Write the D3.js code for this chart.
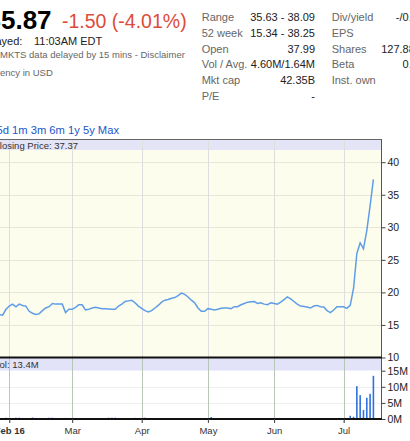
<!DOCTYPE html>
<html>
<head>
<meta charset="utf-8">
<script src="https://cdn.jsdelivr.net/npm/d3@7"></script>
<style>
body { margin: 0; background: #fff; }
svg { display: block; font-family: "Liberation Sans", Arial, sans-serif; }
</style>
</head>
<body>
<div id="chart"></div>
<script>
// daily closes, trading day index -3 .. 110 (idx 0 = first trading day of Feb)
var prices = [16.6,16.5,17.4,17.9,18.2,17.8,18.2,18.0,17.9,17.1,
  16.8,16.6,16.7,17.2,17.6,17.8,18.3,18.2,18.2,18.2,
  16.9,17.4,17.4,17.7,18.1,18.1,17.3,17.4,17.6,17.7,
  17.6,17.5,17.5,17.45,17.4,17.4,17.9,18.2,18.6,18.7,
  18.8,18.4,17.9,17.55,17.2,17.0,17.2,17.6,18.0,18.5,
  18.8,18.9,19.1,19.2,19.5,19.9,19.7,19.3,18.8,18.4,
  17.6,17.1,17.1,17.5,17.4,17.3,17.4,17.55,17.6,17.6,
  17.5,17.8,17.8,18.1,18.3,18.5,18.55,18.6,18.3,18.4,
  18.2,18.1,18.4,18.3,18.2,18.5,18.9,19.3,19.0,18.6,
  18.2,17.9,17.85,17.75,17.6,17.9,18.0,17.8,17.75,17.2,
  16.9,17.3,17.8,17.8,17.8,17.55,18.0,20.6,26.0,27.6,
  26.7,29.5,33.3,37.37];
// volume in millions, same days
var volumes = [0.02,0.02,0.4,0.02,0.02,0.4,0.4,0.02,0.02,0.02,
  0.45,0.02,0.02,0.02,0.02,0.4,0.4,0.02,0.02,0.02,
  0.35,0.02,0.02,0.02,0.02,0.02,0.02,0.02,0.02,0.02,
  0.02,0.02,0.02,0.4,0.4,0.4,0.02,0.02,0.02,0.02,
  0.02,0.35,0.02,0.02,0.4,0.02,0.02,0.02,0.02,0.02,
  0.02,0.02,0.02,0.02,0.02,0.02,0.02,0.02,0.02,0.02,
  0.02,0.02,0.02,0.02,0.6,0.02,0.02,0.02,0.02,0.02,
  0.02,0.02,0.02,0.02,0.02,0.02,0.02,0.02,0.02,0.02,
  0.02,0.02,0.02,0.02,0.02,0.02,0.02,0.02,0.02,0.02,
  0.02,0.02,0.02,0.02,0.02,0.02,0.02,0.02,0.02,0.02,
  0.02,0.02,0.02,0.02,0.02,0.02,1.0,0.7,10.2,7.4,
  2.8,6.6,7.8,13.4];
var firstIdx = -3;
var monthLabels = ["Feb 16","Mar","Apr","May","Jun","Jul"];
var monthIdx = [0,19,40,60,80,101];
var priceTicks = [10,15,20,25,30,35,40];
var volTicks = [0,5,10,15];
var statLabels = ["Range","52 week","Open","Vol / Avg.","Mkt cap","P/E"];
var statValues = ["35.63 - 38.09","15.34 - 38.25","37.99","4.60M/1.64M","42.35B","-"];
var stat2Labels = ["Div/yield","EPS","Shares","Beta","Inst. own"];
var stat2Values = ["-/0.00","-","127.88M","0.77","-"];
var ranges = ["1d","5d","1m","3m","6m","1y","5y","Max"];

var svg = d3.select("#chart").append("svg")
    .attr("width", 410)
    .attr("height", 441);

var x = d3.scaleLinear().domain([0,110]).range([9.3,373.4]);
var y = d3.scaleLinear().domain([10,40]).range([357.5,162.2]);
var yv = d3.scaleLinear().domain([0,15]).range([419,370.7]);

var left = -2, right = 381.5;

// header
svg.append("text").attr("x",-13.5).attr("y",29).style("font-size","26px").style("font-weight","bold")
    .attr("fill","#000").text("35.87");
svg.append("text").attr("x",62).attr("y",28).style("font-size","19.5px").attr("fill","#dd4b39")
    .text("-1.50 (-4.01%)");
svg.append("text").attr("x",-21).attr("y",45).style("font-size","11px").attr("fill","#222").text("Delayed:");
svg.append("text").attr("x",34).attr("y",45).style("font-size","11px").attr("fill","#222").text("11:03AM EDT");
svg.append("text").attr("x",-20).attr("y",57.5).style("font-size","9.5px").attr("fill","#666")
    .text("OTCMKTS data delayed by 15 mins - Disclaimer");
svg.append("text").attr("x",-18.5).attr("y",75.5).style("font-size","9.5px").attr("fill","#666")
    .text("Currency in USD");

var rowY = [20.7,36.5,52.5,68.3,84,99.8];
svg.selectAll(".sl").data(statLabels).enter().append("text")
    .attr("x",201.7).attr("y",function(d,i){ return rowY[i]; })
    .style("font-size","11px").attr("fill","#666").text(function(d){ return d; });
svg.selectAll(".sv").data(statValues).enter().append("text")
    .attr("x",315).attr("y",function(d,i){ return rowY[i]; }).attr("text-anchor","end")
    .style("font-size","11px").attr("fill","#222").text(function(d){ return d; });
svg.selectAll(".sl2").data(stat2Labels).enter().append("text")
    .attr("x",331.7).attr("y",function(d,i){ return rowY[i]; })
    .style("font-size","11px").attr("fill","#666").text(function(d){ return d; });
svg.selectAll(".sv2").data(stat2Values).enter().append("text")
    .attr("x",424).attr("y",function(d,i){ return rowY[i]; }).attr("text-anchor","end")
    .style("font-size","11px").attr("fill","#222").text(function(d){ return d; });

svg.append("text").attr("x",119).attr("y",134).attr("text-anchor","end")
    .style("font-size","11.2px").attr("fill","#1a55cc").text(ranges.join(" "));

// price panel
svg.append("rect").attr("x",left).attr("y",139).attr("width",right-left).attr("height",218.5).attr("fill","#fdfdee");
svg.append("rect").attr("x",left).attr("y",139).attr("width",right-left).attr("height",11).attr("fill","#e4e4f7");
svg.append("rect").attr("x",left).attr("y",358).attr("width",right-left).attr("height",61).attr("fill","#fff");
svg.append("rect").attr("x",left).attr("y",358).attr("width",right-left).attr("height",12.5).attr("fill","#e2e2f8");

svg.selectAll(".hg").data(priceTicks.slice(1)).enter().append("line")
    .attr("x1",left).attr("x2",right).attr("y1",function(d){ return Math.round(y(d))+0.5; })
    .attr("y2",function(d){ return Math.round(y(d))+0.5; }).attr("stroke","#e6e6dc");
svg.selectAll(".vg").data(volTicks.slice(1,3)).enter().append("line")
    .attr("x1",left).attr("x2",right).attr("y1",function(d){ return Math.round(yv(d))+0.5; })
    .attr("y2",function(d){ return Math.round(yv(d))+0.5; }).attr("stroke","#eeeeee");

svg.selectAll(".mg").data(monthIdx).enter().append("line")
    .attr("x1",function(d){ return Math.round(x(d))+0.5; }).attr("x2",function(d){ return Math.round(x(d))+0.5; })
    .attr("y1",139).attr("y2",357).attr("stroke","#dedede");
svg.selectAll(".mgv").data(monthIdx).enter().append("line")
    .attr("x1",function(d){ return Math.round(x(d))+0.5; }).attr("x2",function(d){ return Math.round(x(d))+0.5; })
    .attr("y1",358).attr("y2",423).attr("stroke","#b9c7b9");

// price line
var line = d3.line()
    .x(function(d,i){ return x(i + firstIdx); })
    .y(function(d){ return y(d); });
svg.append("path").datum(prices).attr("d",line)
    .attr("fill","none").attr("stroke","#5f9de6").attr("stroke-width",1.5);

// volume bars
svg.selectAll(".bar").data(volumes).enter().append("rect")
    .attr("x",function(d,i){ return x(i + firstIdx) - 0.8; })
    .attr("width",1.6)
    .attr("y",function(d){ return yv(d); })
    .attr("height",function(d){ return yv(0) - yv(d); })
    .attr("fill","#2f72dc");

// frame
svg.append("line").attr("x1",left).attr("x2",right).attr("y1",139.5).attr("y2",139.5).attr("stroke","#666");
svg.append("line").attr("x1",right).attr("x2",right).attr("y1",139).attr("y2",420).attr("stroke","#555");
svg.append("line").attr("x1",left).attr("x2",right+0.5).attr("y1",357.5).attr("y2",357.5).attr("stroke","#111").attr("stroke-width",2);
svg.append("line").attr("x1",left).attr("x2",right+0.5).attr("y1",419).attr("y2",419).attr("stroke","#111").attr("stroke-width",2);

// band texts
svg.append("text").attr("x",-7).attr("y",148.5).style("font-size","9.5px").attr("fill","#333")
    .text("Closing Price: " + prices[prices.length-1]);
svg.append("text").attr("x",-6.3).attr("y",368).style("font-size","9.5px").attr("fill","#333")
    .text("Vol: " + volumes[volumes.length-1] + "M");

// right axes
var yAxis = d3.axisRight(y).tickValues(priceTicks).tickSize(4).tickPadding(2);
var ga = svg.append("g").attr("transform","translate(" + right + ",0)").call(yAxis);
var yvAxis = d3.axisRight(yv).tickValues(volTicks).tickSize(4).tickPadding(2)
    .tickFormat(function(d){ return d + "M"; });
var gv = svg.append("g").attr("transform","translate(" + right + ",0)").call(yvAxis);
[ga, gv].forEach(function(g){
  g.select(".domain").remove();
  g.selectAll("text").style("font-size","10.5px").style("font-family","Liberation Sans, Arial, sans-serif").attr("fill","#222");
  g.selectAll("line").attr("stroke","#444");
});

// month axis
var xAxis = d3.axisBottom(x).tickValues(monthIdx).tickSize(4).tickPadding(4)
    .tickFormat(function(d,i){ return monthLabels[i]; });
var gx = svg.append("g").attr("transform","translate(0,419)").call(xAxis);
gx.select(".domain").remove();
gx.selectAll("line").attr("stroke","#444");
gx.selectAll("text").style("font-size","9.5px").style("font-family","Liberation Sans, Arial, sans-serif")
    .attr("fill","#333").style("font-weight",function(d,i){ return i === 0 ? "bold" : "normal"; });
</script>
</body>
</html>
